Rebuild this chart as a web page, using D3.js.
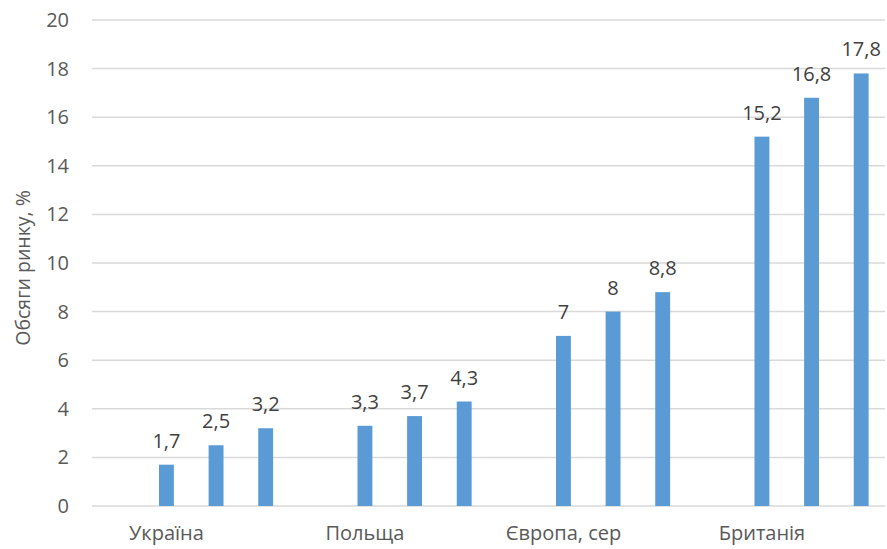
<!DOCTYPE html>
<html>
<head>
<meta charset="utf-8">
<script src="https://cdn.jsdelivr.net/npm/d3@7"></script>
<style>
  body { margin: 0; background: #fff; }
  text { font-family: "Open Sans", "Noto Sans", sans-serif; }
</style>
</head>
<body>
<svg id="viz" width="887" height="549"></svg>
<script>
var categories = ["Україна", "Польща", "Європа, сер", "Британія"];
var seriesNames = ["s0", "s1", "s2", "s3"];
var series0 = [null, null, null, null]; // empty first slot in every group
var series1 = [1.7, 3.3, 7, 15.2];
var series2 = [2.5, 3.7, 8, 16.8];
var series3 = [3.2, 4.3, 8.8, 17.8];
var yTicks = [0, 2, 4, 6, 8, 10, 12, 14, 16, 18, 20];
var yTitle = "Обсяги ринку, %";

var margins = {top: 20, right: 0, bottom: 43, left: 92};

var svg = d3.select("#viz"),
    width = +svg.attr("width") - margins.left - margins.right,
    height = +svg.attr("height") - margins.top - margins.bottom,
    g = svg.append("g").attr("transform", "translate(" + margins.left + "," + margins.top + ")");

var allSeries = [series0, series1, series2, series3];
var fmt = d3.formatLocale({decimal: ",", thousands: " ", grouping: [3], currency: ["", ""]}).format("~g");

var xScale = d3.scaleBand().domain(categories).range([0, width - 1]);
var inner = d3.scaleBand().domain(seriesNames).range([0, xScale.bandwidth()])
              .paddingInner(0.7).paddingOuter(0.35);
var yScale = d3.scaleLinear().domain([0, 20]).range([height, 0]);

// gridlines
g.append("g")
  .selectAll("line")
  .data(yTicks)
  .enter().append("line")
  .attr("x1", 0).attr("x2", width - 2)
  .attr("y1", function(d){ return yScale(d); })
  .attr("y2", function(d){ return yScale(d); })
  .attr("stroke", "#d9d9d9")
  .attr("stroke-width", 1.5);

// y axis labels
var yAxis = g.append("g")
  .attr("transform", "translate(-23,0)")
  .call(d3.axisLeft(yScale).tickValues(yTicks).tickSize(0).tickPadding(0));
yAxis.select(".domain").remove();
yAxis.selectAll("text")
  .attr("fill", "#595959")
  .style("font-size", "20px");

// category labels (centred under the first drawn bar of each group, like the original)
var xAxis = g.append("g")
  .attr("transform", "translate(" + (-inner.step() / 2) + "," + height + ")")
  .call(d3.axisBottom(xScale).tickSize(0).tickPadding(20));
xAxis.select(".domain").remove();
xAxis.selectAll("text")
  .attr("fill", "#595959")
  .style("font-size", "20px");

// bars
var groups = g.selectAll(".grp")
  .data(categories)
  .enter().append("g")
  .attr("class", "grp")
  .attr("transform", function(d){ return "translate(" + xScale(d) + ",0)"; });

groups.each(function(cat, ci){
  var grp = d3.select(this);
  allSeries.forEach(function(s, si){
    var v = s[ci];
    if(v === null) return;
    grp.append("rect")
      .attr("x", inner(seriesNames[si]))
      .attr("width", inner.bandwidth())
      .attr("y", yScale(v))
      .attr("height", height - yScale(v))
      .attr("fill", "#5b9bd5");
    grp.append("text")
      .attr("x", inner(seriesNames[si]) + inner.bandwidth() / 2)
      .attr("y", yScale(v) - 17)
      .attr("text-anchor", "middle")
      .attr("fill", "#404040")
      .style("font-size", "20px")
      .text(fmt(v));
  });
});

// y title
svg.append("text")
  .attr("transform", "translate(30," + (margins.top + height / 2 + 5) + ") rotate(-90)")
  .attr("text-anchor", "middle")
  .attr("fill", "#595959")
  .style("font-size", "19.5px")
  .text(yTitle);
</script>
</body>
</html>
